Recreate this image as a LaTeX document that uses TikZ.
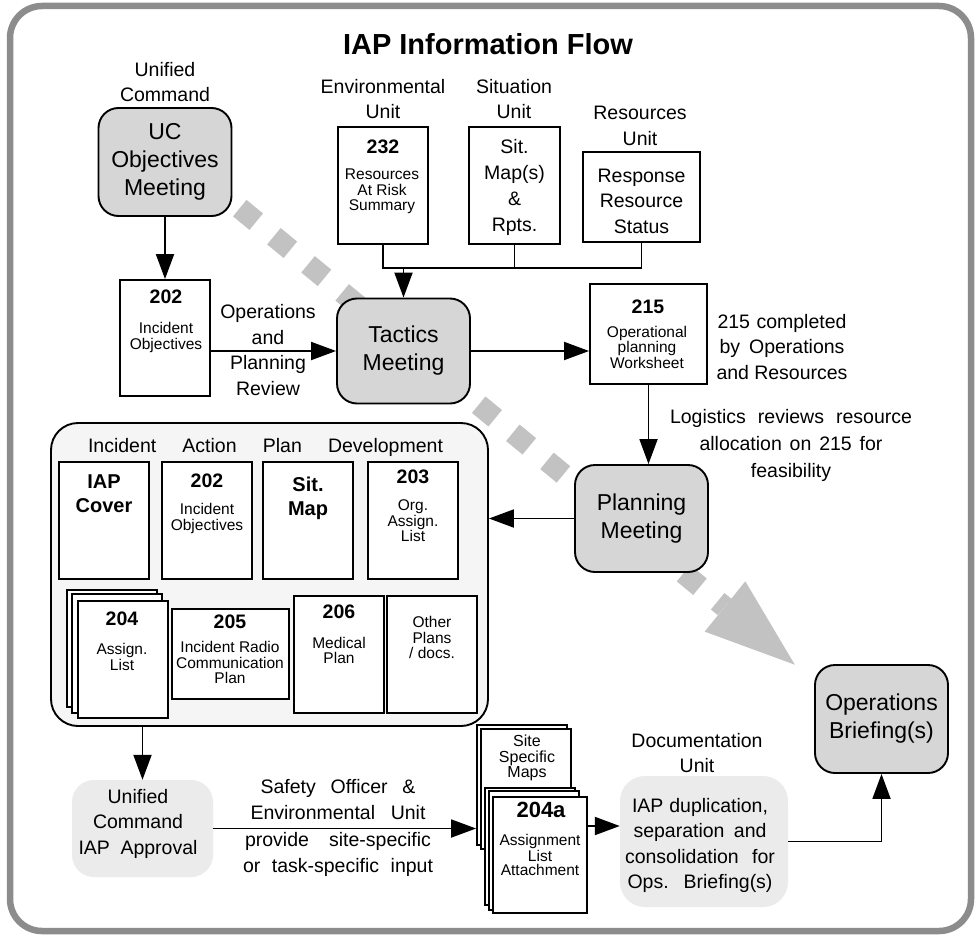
\documentclass[tikz,border=0pt]{standalone}
\usepackage{fontspec}
\setmainfont{Liberation Sans}
\usetikzlibrary{arrows.meta}
\definecolor{framegray}{HTML}{8C8C8C}
\definecolor{meetgray}{HTML}{D6D6D6}
\definecolor{softgray}{HTML}{EBEBEB}
\definecolor{panelgray}{HTML}{F5F5F5}
\definecolor{flowgray}{HTML}{C2C2C2}
% type sizes (1pt = one unit of the drawing grid)
\newcommand\fbody{\fontsize{19.5}{25.5}\selectfont}
\newcommand\fsmall{\fontsize{15.5}{15.5}\selectfont}
\newcommand\fbig{\fontsize{23}{28}\selectfont}
\newcommand\fnum{\fontsize{19.5}{22}\selectfont\bfseries}
\newcommand\fcap{\fontsize{20}{24}\selectfont\bfseries}
\newcommand\ftitle{\fontsize{29}{32}\selectfont\bfseries}
\newcommand\fsite{\fontsize{16}{15.5}\selectfont}
% a line spread out to a given width
\newcommand\sline[2]{\makebox[#1pt][s]{#2}}
\begin{document}
\begin{tikzpicture}[x=1pt,y=-1pt,
  form/.style={draw, line width=1.9pt, fill=white, inner sep=0pt},
  meet/.style={draw, line width=1.9pt, fill=meetgray, rounded corners=20pt,
               inner sep=0pt, font=\fbig, align=center},
  soft/.style={fill=softgray, rounded corners=22pt, inner sep=0pt},
  txt/.style={inner sep=0pt, align=center, font=\fbody},
  small/.style={inner sep=0pt, align=center, font=\fsmall},
  num/.style={inner sep=0pt, font=\fnum},
  arr/.style={line width=1.9pt, -{Triangle[length=25pt,width=18pt]}},
  wire/.style={line width=1.9pt}]

\fill[white] (0,0) rectangle (976,936);
\useasboundingbox (0,0) rectangle (976,936);

% outer frame
\draw[framegray, line width=6.5pt, rounded corners=32pt] (10,6) rectangle (971,931);

% overall flow: broad dotted gray arrow toward the briefing
\draw[flowgray, line width=21.3pt, dash pattern=on 21.3pt off 22.9pt]
  (171.5,152) -- (724.5,606.9);
\fill[flowgray] (704.7,631.6) -- (794.8,664.7) -- (745.3,581.3) -- cycle;

% title
\node[txt, font=\ftitle] (title) at (488,44) {IAP Information Flow};

% unified command objectives
\node[txt] (uclbl) at (165,82) {Unified\\Command};
\node[meet, minimum width=133pt, minimum height=108pt] (uc) at (165,162) {UC\\Objectives\\Meeting};

\node[form, minimum width=90pt, minimum height=116pt] (b202) at (165,338) {};
\node[num] (b202n) at (166,297) {202};
\node[small] (b202t) at (166,337.5) {Incident\\Objectives};
\draw[arr] (uc.south) -- (b202.north);

\node[txt] (opslbl) at (268,350) {Operations\\and\\Planning\\Review};

% tactics meeting
\node[meet, minimum width=133pt, minimum height=105pt] (tac) at (403.5,351) {Tactics\\Meeting};
\draw[arr] (b202.east |- tac.west) -- (tac.west);

% unit inputs
\node[txt] (envlbl) at (383,99) {Environmental\\Unit};
\node[form, minimum width=90pt, minimum height=117pt] (b232) at (383,185.5) {};
\node[num] (b232n) at (383,147) {232};
\node[small] (b232t) at (382,191.5) {Resources\\At Risk\\Summary};

\node[txt] (sitlbl) at (514,99) {Situation\\Unit};
\node[form, minimum width=91pt, minimum height=117pt] (bsit) at (514.5,185.5) {};
\node[txt, font={\fontsize{19.5}{26.3}\selectfont}] (bsitt) at (514.5,187.5) {Sit.\\Map(s)\\\&\\Rpts.};

\node[txt] (reslbl) at (640,126) {Resources\\Unit};
\node[form, minimum width=117pt, minimum height=90pt] (bres) at (641.5,197) {};
\node[txt] (brest) at (641.5,201) {Response\\Resource\\Status};

\coordinate (busy) at (0,268);
\draw[wire] (b232.south) |- (bres.south |- busy) -- (bres.south);
\draw[wire] (bsit.south) -- (bsit.south |- busy);
\draw[arr] (tac.north |- busy) -- (tac.north);

% operational planning worksheet
\node[form, minimum width=117pt, minimum height=100pt] (b215) at (648.5,334) {};
\node[num] (b215n) at (648,307) {215};
\node[small] (b215t) at (647,347) {Operational\\planning\\Worksheet};
\draw[arr] (tac.east) -- (tac.east -| b215.west);
\node[txt] (cmpl) at (782,347) {\sline{129}{215 completed}\\\sline{125}{by Operations}\\\sline{131}{and Resources}};

% planning meeting
\node[meet, minimum width=133pt, minimum height=107pt] (plan) at (641.5,518.5) {Planning\\Meeting};
\draw[arr] (b215.south) -- (b215.south |- plan.north);
\node[txt, font={\fontsize{19.5}{27}\selectfont}] (logi) at (791,445)
  {\sline{242}{Logistics reviews resource}\\\sline{183}{allocation on 215 for}\\feasibility};

% IAP development panel
\node[draw, line width=1.9pt, fill=panelgray, rounded corners=27pt, minimum width=437pt,
      minimum height=303pt, inner sep=0pt] (iap) at (269.5,574.5) {};
\node[txt] (iapt) at (265.5,447) {\sline{355}{Incident Action Plan Development}};
\draw[arr] (plan.west) -- (plan.west -| iap.east);

\node[form, minimum width=90pt, minimum height=117pt] (cover) at (104,520.5) {};
\node[inner sep=0pt, align=center, font=\fcap] (covert) at (104,494) {IAP\\Cover};

\node[form, minimum width=90pt, minimum height=117pt] (i202) at (207,520.5) {};
\node[num] (i202n) at (207,481) {202};
\node[small] (i202t) at (207,518.5) {Incident\\Objectives};

\node[form, minimum width=90pt, minimum height=117pt] (smap) at (308,520.5) {};
\node[inner sep=0pt, align=center, font=\fcap] (smapt) at (308,498) {Sit.\\Map};

\node[form, minimum width=90pt, minimum height=117pt] (i203) at (413,520.5) {};
\node[num] (i203n) at (413,477) {203};
\node[small] (i203t) at (413,521) {Org.\\Assign.\\List};

\node[form, minimum width=90pt, minimum height=117pt] (s204a) at (112,648.5) {};
\node[form, minimum width=90pt, minimum height=119pt] (s204b) at (117,653.5) {};
\node[form, minimum width=90pt, minimum height=117pt] (s204c) at (123,659.5) {};
\node[num] (s204n) at (122,619) {204};
\node[small] (s204t) at (122,657) {Assign.\\List};

\node[form, minimum width=117pt, minimum height=90pt] (i205) at (230.5,654) {};
\node[num] (i205n) at (230,622) {205};
\node[small] (i205t) at (230,662.5) {Incident Radio\\Communication\\Plan};

\node[form, minimum width=90pt, minimum height=117pt] (i206) at (339,654.5) {};
\node[num] (i206n) at (339,612) {206};
\node[small] (i206t) at (339,650.5) {Medical\\Plan};

\node[form, minimum width=90pt, minimum height=117pt] (other) at (432,654.5) {};
\node[small] (othert) at (432,637.5) {Other\\Plans\\/ docs.};

% approval
\node[soft, minimum width=141pt, minimum height=97pt] (appr) at (142.5,828.5) {};
\node[txt] (apprt) at (138,823.5) {Unified\\Command\\\sline{119}{IAP Approval}};
\draw[arr] (appr.north |- iap.south) -- (appr.north);

\node[txt, font={\fontsize{19.5}{26.3}\selectfont}] (safety) at (338,828)
  {\sline{155}{Safety Officer \&}\\\sline{175}{Environmental Unit}\\\sline{186}{provide site-specific}\\\sline{190}{or task-specific input}};

% site maps and assignment list attachments
\node[form, minimum width=90pt, minimum height=120pt] (siteA) at (522,785) {};
\node[form, minimum width=90pt, minimum height=120pt] (siteB) at (526,789) {};
\node[inner sep=0pt, align=center, font=\fsite] (sitet) at (527,758) {Site\\Specific\\Maps};
\draw[arr] (appr.east) -- (appr.east -| siteA.west);

\node[form, minimum width=90pt, minimum height=117pt] (a204a) at (530,846.5) {};
\node[form, minimum width=90pt, minimum height=119pt] (a204b) at (534,850.5) {};
\node[form, minimum width=94pt, minimum height=116pt] (a204c) at (540,855) {};
\node[inner sep=0pt, font={\fontsize{22}{24}\selectfont\bfseries}] (a204n) at (541,810) {204a};
\node[inner sep=0pt, align=center, font={\fontsize{15.5}{14}\selectfont}] (a204t) at (540,855)
  {Assignment\\List\\Attachment};

% documentation unit
\node[txt] (doclbl) at (697,753) {Documentation\\Unit};
\node[soft, rounded corners=25pt, minimum width=168pt, minimum height=131pt] (doc) at (704,841.5) {};
\node[txt] (doct) at (700,845.5)
  {\sline{136}{IAP duplication,}\\\sline{133}{separation and}\\\sline{150}{consolidation for}\\\sline{145}{Ops. Briefing(s)}};
\coordinate (docy) at (0,826);
\draw[arr] (a204c.east |- docy) -- (doc.west |- docy);

% operations briefing
\node[meet, minimum width=133pt, minimum height=108pt] (ops) at (881.5,719) {Operations\\Briefing(s)};
\draw[arr] (doc.east) -| (ops.south);

\end{tikzpicture}
\end{document}
